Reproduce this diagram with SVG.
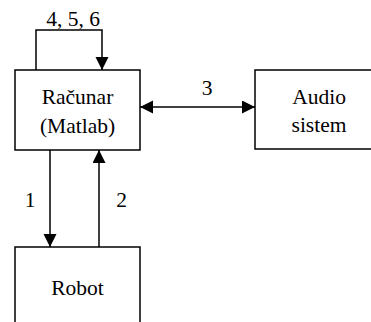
<svg xmlns="http://www.w3.org/2000/svg" width="371" height="322" viewBox="0 0 371 322">
<defs>
<marker id="ah" markerUnits="userSpaceOnUse" markerWidth="14" markerHeight="14" refX="13" refY="6.5" orient="auto-start-reverse">
<path d="M0,0 L13,6.5 L0,13 Z" fill="#000"/>
</marker>
</defs>
<g font-family="Liberation Serif, Times New Roman, Tinos, DejaVu Serif, serif" font-size="21.5" fill="#000" text-anchor="middle">
<g id="racunar"><rect x="15" y="70" width="125" height="80" fill="#fff" stroke="#000" stroke-width="1.5"/><text x="77.5" y="104">Računar</text><text x="77.5" y="133">(Matlab)</text></g>
<g id="audio"><rect x="255" y="70" width="130" height="79" fill="#fff" stroke="#000" stroke-width="1.5"/><text x="319" y="104">Audio</text><text x="319" y="132">sistem</text></g>
<g id="robot"><rect x="15" y="247" width="125" height="90" fill="#fff" stroke="#000" stroke-width="1.5"/><text x="77.5" y="295">Robot</text></g>
<g id="connectors" fill="none" stroke="#000" stroke-width="1.5">
<path d="M36,70 V30 H102 V70" marker-end="url(#ah)"/>
<path d="M140,107 H255" marker-start="url(#ah)" marker-end="url(#ah)"/>
<path d="M50,150 V247" marker-end="url(#ah)"/>
<path d="M99,247 V150" marker-end="url(#ah)"/>
</g>
<g id="labels">
<text x="73" y="26">4, 5, 6</text>
<text x="207" y="95">3</text>
<text x="30" y="207">1</text>
<text x="121.5" y="207">2</text>
</g>
</g>
</svg>
